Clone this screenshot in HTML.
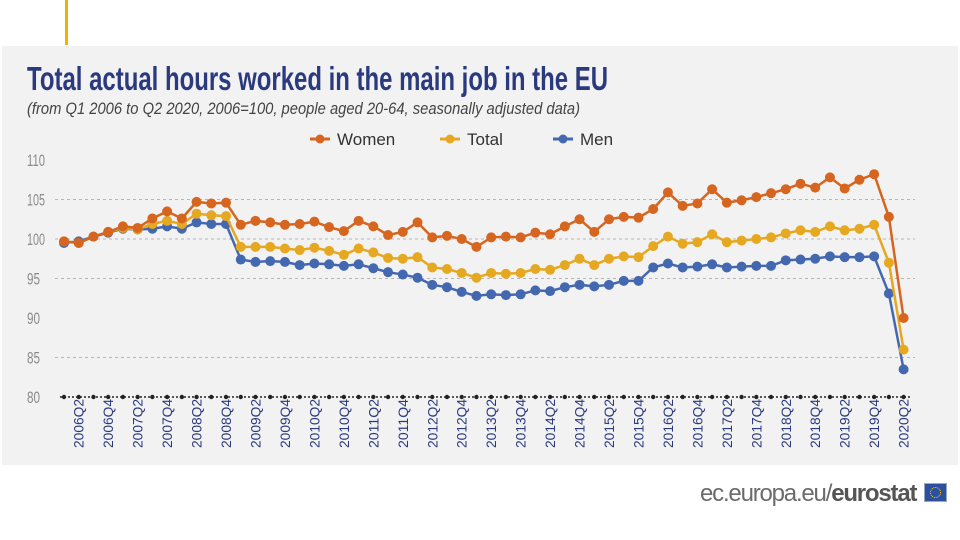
<!DOCTYPE html>
<html><head><meta charset="utf-8"><style>
html,body{margin:0;padding:0;background:#fff;}
body{width:960px;height:540px;position:relative;overflow:hidden;font-family:"Liberation Sans",sans-serif;}
</style></head><body>
<div style="position:absolute;left:65px;top:0;width:3px;height:45px;background:#f0b400"></div>
<div style="position:absolute;left:2px;top:46px;width:956px;height:419px;background:#f2f2f2"></div>
<svg id="chart" width="960" height="540" style="position:absolute;left:0;top:0" xmlns="http://www.w3.org/2000/svg">
<text x="27" y="90" font-family="Liberation Sans" font-weight="bold" font-size="33" fill="#2b3a7e" textLength="581" lengthAdjust="spacingAndGlyphs">Total actual hours worked in the main job in the EU</text>
<text x="27" y="114" font-family="Liberation Sans" font-style="italic" font-size="17" fill="#444" textLength="553" lengthAdjust="spacingAndGlyphs">(from Q1 2006 to Q2 2020, 2006=100, people aged 20-64, seasonally adjusted data)</text>
<g id="legend"></g>
<g id="grid"></g><g id="series"></g><g id="xlabels"></g>
</svg>
<div style="position:absolute;left:700px;top:480px;font-size:24px;color:#6b6b6b;letter-spacing:-1.2px">ec.europa.eu/<b style="color:#555">eurostat</b></div>
<div style="position:absolute;left:924px;top:483px;width:21px;height:17px;background:#2d4fa0;border:1px solid #9ab"><div style="position:absolute;left:5px;top:3px;width:9px;height:9px;border:1px dotted #ffd200;border-radius:50%"></div></div>
<script>
const categories=[];for(let y=2006;y<=2020;y++)for(let q=1;q<=4;q++){if(y===2020&&q>2)break;categories.push(y+'Q'+q);}
const women=[99.7,99.5,100.3,100.9,101.6,101.4,102.6,103.5,102.6,104.7,104.5,104.6,101.8,102.3,102.1,101.8,101.9,102.2,101.5,101.0,102.3,101.6,100.5,100.9,102.1,100.2,100.4,100.0,99.0,100.2,100.3,100.2,100.8,100.6,101.6,102.5,100.9,102.5,102.8,102.7,103.8,105.9,104.2,104.5,106.3,104.6,104.9,105.3,105.8,106.3,107.0,106.5,107.8,106.4,107.5,108.2,102.8,90.0];
const total=[99.7,99.5,100.3,100.9,101.4,101.2,101.9,102.3,101.9,103.2,103.0,102.9,99.0,99.0,99.0,98.8,98.6,98.9,98.5,98.0,98.8,98.3,97.6,97.5,97.7,96.4,96.2,95.7,95.1,95.7,95.6,95.7,96.2,96.1,96.7,97.5,96.7,97.5,97.8,97.7,99.1,100.3,99.4,99.6,100.6,99.6,99.8,100.0,100.2,100.7,101.1,100.9,101.6,101.1,101.3,101.8,97.0,86.0];
const men=[99.5,99.7,100.3,100.8,101.3,101.2,101.3,101.6,101.3,102.1,101.9,101.9,97.4,97.1,97.2,97.1,96.7,96.9,96.8,96.6,96.8,96.3,95.8,95.5,95.1,94.2,93.9,93.3,92.8,93.0,92.9,93.0,93.5,93.4,93.9,94.2,94.0,94.2,94.7,94.7,96.4,96.9,96.4,96.5,96.8,96.4,96.5,96.6,96.6,97.3,97.4,97.5,97.8,97.7,97.7,97.8,93.1,83.5];
const yTicks=[80,85,90,95,100,105,110];
const seriesNames=['Women','Total','Men'];
const NS='http://www.w3.org/2000/svg';
const X=i=>64+i*14.73;
const Y=v=>397-(v-80)*7.9;
function mk(tag,attrs,parent){const e=document.createElementNS(NS,tag);for(const k in attrs)e.setAttribute(k,attrs[k]);parent.appendChild(e);return e;}
const grid=document.getElementById('grid');
yTicks.forEach(t=>{
  if(t>80&&t!==90&&t!==110){const l=mk('line',{x1:55,x2:915,y1:Y(t),y2:Y(t),stroke:'#b5b5b5','stroke-dasharray':'3,3','stroke-width':1},grid);
  
  }
  const w=String(t).length===3?18:13;
  const tx=mk('text',{x:27,y:Y(t)+6,'font-size':17,fill:'#8a8a8a','font-family':'Liberation Sans',textLength:w,lengthAdjust:'spacingAndGlyphs'},grid);tx.textContent=t;
  
  
});
const base=mk('line',{x1:60,x2:910,y1:Y(80),y2:Y(80),stroke:'#222','stroke-dasharray':'2,2','stroke-width':1.5},grid);


categories.forEach((c,i)=>{const d=mk('circle',{cx:X(i),cy:Y(80),r:2.2,fill:'#222'},grid);
  
  });
const xl=document.getElementById('xlabels');
categories.forEach((c,i)=>{if(i%2===1){const t=mk('text',{transform:`translate(${X(i)+5},448) rotate(-90)`,'font-size':14,fill:'#2b3a7e','font-family':'Liberation Sans',textLength:49,lengthAdjust:'spacingAndGlyphs'},xl);t.textContent=c;
  
  }});
const colors=['#d5651f','#e6a820','#4468b0'];
const data=[women,total,men];
const sg=document.getElementById('series');
[2,1,0].forEach(s=>{const g=mk('g',{},sg);
  
  
  mk('polyline',{points:data[s].map((v,i)=>X(i)+','+Y(v)).join(' '),fill:'none',stroke:colors[s],'stroke-width':2.5},g);
  data[s].forEach((v,i)=>{const c=mk('circle',{cx:X(i),cy:Y(v),r:5,fill:colors[s]},g);
    
    });
});
const lg=document.getElementById('legend');
const lx=[310,440,553];
seriesNames.forEach((n,s)=>{const g=mk('g',{},lg);
  
  
  mk('line',{x1:lx[s],x2:lx[s]+20,y1:139,y2:139,stroke:colors[s],'stroke-width':3},g);
  mk('circle',{cx:lx[s]+10,cy:139,r:4.5,fill:colors[s]},g);
  const t=mk('text',{x:lx[s]+27,y:145,'font-size':17,fill:'#333','font-family':'Liberation Sans'},g);t.textContent=n;
});
</script>
</body></html>
